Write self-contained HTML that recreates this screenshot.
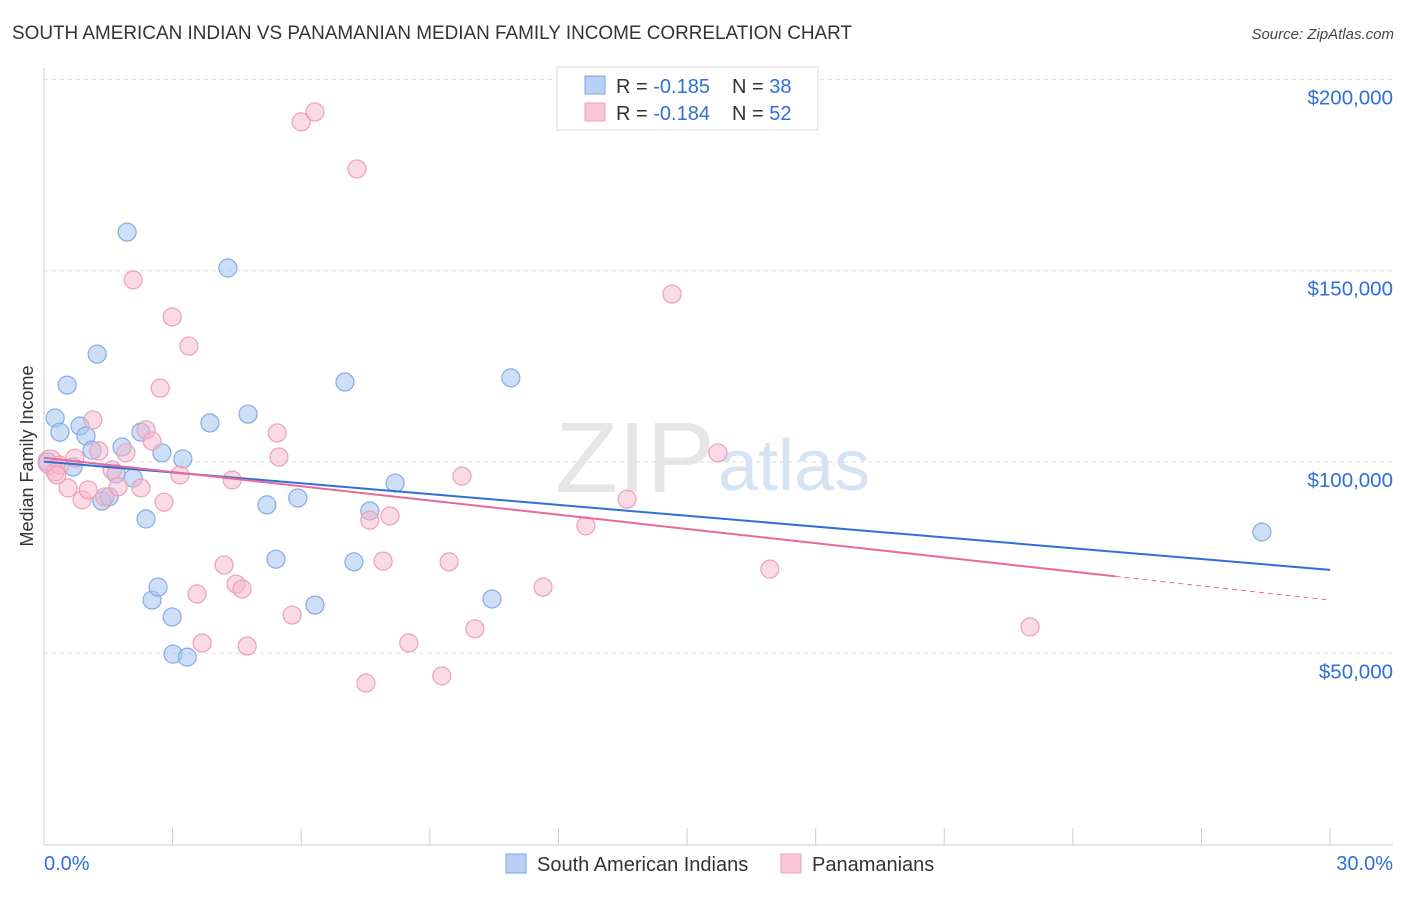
<!DOCTYPE html>
<html><head><meta charset="utf-8">
<style>
body{margin:0;background:#fff;font-family:"Liberation Sans",sans-serif;}
svg text{font-family:"Liberation Sans",sans-serif;}
</style></head>
<body>
<svg id="chart" width="1406" height="892" viewBox="0 0 1406 892" xmlns="http://www.w3.org/2000/svg">
<text x="12" y="39" font-size="19" fill="#333" textLength="840" lengthAdjust="spacingAndGlyphs">SOUTH AMERICAN INDIAN VS PANAMANIAN MEDIAN FAMILY INCOME CORRELATION CHART</text>
<text x="1394" y="39" font-size="15" fill="#444" text-anchor="end" font-style="italic">Source: ZipAtlas.com</text>
<text x="555" y="492" font-size="100" fill="#e6e6e6" font-family="Liberation Serif" textLength="160" lengthAdjust="spacingAndGlyphs">ZIP</text>
<text x="718" y="490" font-size="72" fill="#d6e3f5">atlas</text>
<text transform="translate(33,456) rotate(-90)" font-size="18" fill="#333" text-anchor="middle">Median Family Income</text>
<g id="grid"></g><g id="axes"></g><g id="marks"></g>
<g>
<rect x="557" y="67" width="261" height="63" fill="#fff" stroke="#ddd"/>
<rect x="585" y="76" width="20" height="18" fill="#b7d0f3" stroke="#7ea6df"/>
<rect x="585" y="103" width="20" height="18" fill="#f9c6d5" stroke="#eea0b8"/>
<text x="616" y="93" font-size="20" fill="#333">R = <tspan fill="#2f6fd6">-0.185</tspan></text>
<text x="732" y="93" font-size="20" fill="#333">N = <tspan fill="#2f6fd6">38</tspan></text>
<text x="616" y="120" font-size="20" fill="#333">R = <tspan fill="#2f6fd6">-0.184</tspan></text>
<text x="732" y="120" font-size="20" fill="#333">N = <tspan fill="#2f6fd6">52</tspan></text>
</g>
<g>
<rect x="506" y="854" width="20" height="19" fill="#b7d0f3" stroke="#7ea6df"/>
<text x="537" y="871" font-size="20" fill="#333">South American Indians</text>
<rect x="781" y="854" width="20" height="19" fill="#f9c6d5" stroke="#eea0b8"/>
<text x="812" y="871" font-size="20" fill="#333">Panamanians</text>
</g>
</svg>
<script>
const yTicks=[50000,100000,150000,200000];
const yTickLabels=["$50,000","$100,000","$150,000","$200,000"];
const xTicks=[0,3,6,9,12,15,18,21,24,27,30];
const blueX=[0.26,0.37,0.54,0.68,0.84,0.98,1.12,1.24,1.35,1.52,1.68,1.82,1.94,2.08,2.26,2.38,2.52,2.66,2.75,2.99,3.01,3.24,3.34,3.87,4.29,4.76,5.20,5.41,5.92,6.32,7.02,7.23,7.60,8.19,10.45,10.89,28.41,0.09];
const blueY=[111.5,107.8,120.1,98.7,109.4,106.8,103.1,128.2,89.8,90.9,96.9,103.9,160.1,95.8,107.8,85.1,63.9,67.3,102.4,59.5,49.8,100.8,49.0,110.2,150.7,112.5,88.8,74.6,90.6,62.6,120.9,73.9,87.2,94.5,64.2,122.0,81.7,100];
const pinkX=[0.14,0.26,0.37,0.56,0.72,0.89,1.03,1.14,1.28,1.42,1.59,1.73,1.91,2.08,2.26,2.38,2.52,2.71,2.80,2.99,3.17,3.38,3.57,3.69,4.20,4.39,4.48,4.62,4.74,5.44,5.48,5.79,6.00,6.32,7.30,7.51,7.60,7.91,8.07,8.51,9.28,9.45,9.75,10.05,11.64,12.64,13.60,14.65,15.72,16.93,23.00,0.30];
const pinkY=[100,97.4,99.2,93.2,101.0,90.1,92.7,111.0,102.9,90.9,97.9,93.5,102.4,147.6,93.2,108.4,105.5,119.3,89.5,137.9,96.6,130.3,65.5,52.7,73.1,95.3,68.1,66.8,51.9,107.6,101.3,60.0,188.9,191.5,176.6,42.2,84.8,74.1,85.9,52.7,44.1,73.9,96.3,56.4,67.3,83.3,90.3,143.9,102.4,72.0,56.9,96.6];
const blueTrend=[100.1,71.8];
const pinkTrend=[101.1,63.9];
const NS="http://www.w3.org/2000/svg";
function X(p){return 44+p*42.87;}
function Y(v){return 462-(v-100000)*191.3/50000;}
function Yk(k){return Y(k*1000);}
function mk(t,a,parent){const e=document.createElementNS(NS,t);for(const k in a)e.setAttribute(k,a[k]);parent.appendChild(e);return e;}
const grid=document.getElementById('grid'),axes=document.getElementById('axes'),marks=document.getElementById('marks');
yTicks.forEach((v,i)=>{
 const l=mk('line',{x1:44,x2:1393,y1:Y(v),y2:Y(v),stroke:'#ddd','stroke-dasharray':'4,4'},grid);
 
 
 const t=mk('text',{x:1393,y:Y(v)+25,'font-size':20.5,fill:'#2f6fd6','text-anchor':'end'},axes);
 t.textContent=yTickLabels[i];
 
 
});
let a=mk('line',{x1:44,x2:44,y1:68,y2:845,stroke:'#ccc'},axes);


a=mk('line',{x1:44,x2:1393,y1:845,y2:845,stroke:'#ccc'},axes);


xTicks.forEach(p=>{
 const t=mk('line',{x1:X(p),x2:X(p),y1:828,y2:845,stroke:'#ccc'},axes);
 
 
});
let xl=mk('text',{x:44,y:870,'font-size':20,fill:'#2f6fd6'},axes);xl.textContent='0.0%';


xl=mk('text',{x:1393,y:870,'font-size':20,fill:'#2f6fd6','text-anchor':'end'},axes);xl.textContent='30.0%';


blueX.forEach((p,i)=>{
 const c=mk('circle',{cx:X(p),cy:Yk(blueY[i]),r:9,fill:'rgba(164,196,240,0.55)',stroke:'#86abe2','stroke-width':1.2},marks);
 
 
});
pinkX.forEach((p,i)=>{
 const c=mk('circle',{cx:X(p),cy:Yk(pinkY[i]),r:i==0?12:9,fill:'rgba(246,182,202,0.5)',stroke:'#eea0b8','stroke-width':1.2},marks);
 
 
});
let l=mk('line',{x1:X(0),y1:Yk(blueTrend[0]),x2:X(30),y2:Yk(blueTrend[1]),stroke:'#2f6fd6','stroke-width':2},marks);


const pm=pinkTrend[0]+(pinkTrend[1]-pinkTrend[0])*25/30;
l=mk('line',{x1:X(0),y1:Yk(pinkTrend[0]),x2:X(25),y2:Yk(pm),stroke:'#e8699a','stroke-width':2},marks);


l=mk('line',{x1:X(25),y1:Yk(pm),x2:X(30),y2:Yk(pinkTrend[1]),stroke:'#e8699a','stroke-width':1,'stroke-dasharray':'5,4'},marks);


</script>
</body></html>
